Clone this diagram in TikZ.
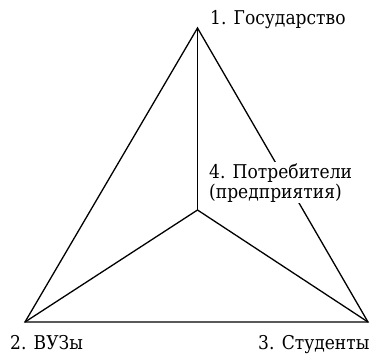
\documentclass[tikz,border=0pt]{standalone}
\usepackage{fontspec}
\newfontfamily\tnr[FakeStretch=0.9]{DejaVu Serif}
\usetikzlibrary{positioning}
\tikzset{
 edge/.style={line width=1.3pt,line join=miter},
 lbl/.style={inner sep=0pt,anchor=base west,font=\tnr\fontsize{19}{20}\selectfont}
}
\begin{document}
\begin{tikzpicture}[x=1pt,y=1pt]
\useasboundingbox (0,0) rectangle (372,357);
% corners of the triangle and its centre
\coordinate (gos) at (197.5,329);
\coordinate (vuz) at (25,35);
\coordinate (stud) at (368,35);
\coordinate (potr) at (197.5,147);
\draw[edge] (gos)--(vuz)--(stud)--cycle;
\draw[edge] (potr)--(gos);\draw[edge] (potr)--(vuz);\draw[edge] (potr)--(stud);
% labels
\node[lbl] (tgos) at (210,332) {1. Государство};
\node[lbl] (tvuz) at (10,8) {2. ВУЗы};
\node[lbl] (tstud) at (258,8) {3. Студенты};
\node[lbl,align=left,fill=white,inner sep=1pt] (tpotr) at (208,159) {4. Потребители\\(предприятия)};
\end{tikzpicture}
\end{document}
